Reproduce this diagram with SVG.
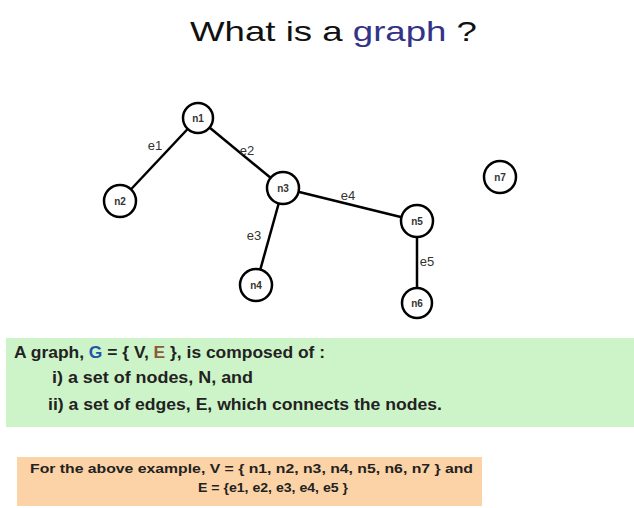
<svg xmlns="http://www.w3.org/2000/svg" width="634" height="508" viewBox="0 0 634 508">
<style>
.node circle{fill:#fff;stroke:#000;stroke-width:2.5}
.node text{font-family:"Liberation Sans",Arial,sans-serif;font-size:10px;font-weight:bold;fill:#333;text-anchor:middle}
.edge{stroke:#000;stroke-width:2.5}
.elab{font-family:"Liberation Sans",Arial,sans-serif;font-size:13px;fill:#333;text-anchor:middle}
.t{font-family:"Liberation Sans",Arial,sans-serif;font-weight:bold;fill:#222}
</style>
<rect width="634" height="508" fill="#fff"/>
<text x="190" y="41" font-family="Liberation Sans,Arial,sans-serif" font-size="28" textLength="287" lengthAdjust="spacingAndGlyphs" fill="#111">What is a <tspan fill="#333388">graph</tspan> ?</text>
<g id="connectors">
<line class="edge" x1="198" y1="118" x2="120" y2="201"/>
<line class="edge" x1="198" y1="118" x2="283" y2="188"/>
<line class="edge" x1="283" y1="188" x2="256" y2="285"/>
<line class="edge" x1="283" y1="188" x2="417" y2="221"/>
<line class="edge" x1="417" y1="221" x2="417" y2="303"/>
<text class="elab" x="155" y="150">e1</text>
<text class="elab" x="247" y="155">e2</text>
<text class="elab" x="254" y="240">e3</text>
<text class="elab" x="348" y="200">e4</text>
<text class="elab" x="427" y="266">e5</text>
</g>
<g id="n1" class="node"><circle cx="198" cy="118" r="15"/><text x="198" y="122">n1</text></g>
<g id="n2" class="node"><circle cx="120" cy="201" r="16"/><text x="120" y="205">n2</text></g>
<g id="n3" class="node"><circle cx="283" cy="188" r="16"/><text x="283" y="192">n3</text></g>
<g id="n4" class="node"><circle cx="256" cy="285" r="16"/><text x="256" y="289">n4</text></g>
<g id="n5" class="node"><circle cx="417" cy="221" r="16"/><text x="417" y="225">n5</text></g>
<g id="n6" class="node"><circle cx="417" cy="303" r="15"/><text x="417" y="307">n6</text></g>
<g id="n7" class="node"><circle cx="500" cy="177" r="16"/><text x="500" y="181">n7</text></g>
<g id="definition">
<rect x="6" y="338" width="628" height="89" fill="#cdf4c8"/>
<text class="t" x="14" y="358" font-size="17" textLength="311" lengthAdjust="spacingAndGlyphs">A graph, <tspan fill="#2255aa">G</tspan> = { V, <tspan fill="#8a5a3a">E</tspan> }, is composed of :</text>
<text class="t" x="52" y="383" font-size="17" textLength="201" lengthAdjust="spacingAndGlyphs">i)  a set of nodes, N, and</text>
<text class="t" x="48" y="410" font-size="17" textLength="394" lengthAdjust="spacingAndGlyphs">ii) a set of edges, E, which connects the nodes.</text>
</g>
<g id="example">
<rect x="17" y="457" width="465" height="49" fill="#fbd3a6"/>
<text class="t" x="30" y="473" font-size="13" textLength="443" lengthAdjust="spacingAndGlyphs">For the above  example, V = { n1, n2, n3, n4, n5, n6, n7 } and</text>
<text class="t" x="198" y="492" font-size="13" textLength="150" lengthAdjust="spacingAndGlyphs">E = {e1, e2, e3, e4, e5 }</text>
</g>
</svg>
